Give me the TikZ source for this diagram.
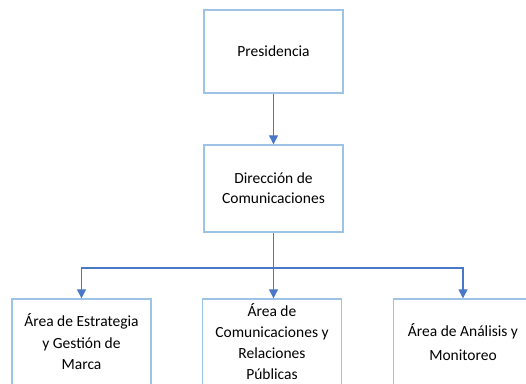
\documentclass[tikz,border=0pt]{standalone}
\usepackage{fontspec}
\setmainfont{Carlito}
\usetikzlibrary{arrows.meta, positioning}
\definecolor{borde}{HTML}{9DC3E6}
\definecolor{flecha}{HTML}{4A78C8}

\begin{document}
\begin{tikzpicture}[
    x=1pt, y=-1pt,
    caja/.style={draw=borde, line width=1.4pt, rectangle, minimum width=139pt,
                 align=center, font=\fontsize{15.5}{20}\selectfont},
    rel/.style={-{Triangle[width=9pt, length=9pt]}, draw=flecha, line width=1.2pt},
]
\useasboundingbox (0,0) rectangle (526,383);
%% Niveles: Presidencia arriba, Direccion al centro, tres areas abajo
\node[caja, minimum height=83pt]  at (273.5, 51.5)  (pres) {Presidencia};
\node[caja, minimum height=87pt]  at (273.5, 188.5) (dir)  {Direcci\'on de\\Comunicaciones};
\node[caja, minimum height=86pt, font=\fontsize{15.5}{21.5}\selectfont]
      at (81.5, 342)  (estr) {\'Area de Estrategia\\y Gesti\'on de\\Marca};
\node[caja, minimum height=86pt, font=\fontsize{15.5}{21}\selectfont]
      at (272, 342)   (rrpp) {\'Area de\\Comunicaciones y\\Relaciones\\P\'ublicas};
\node[caja, minimum height=86pt, font=\fontsize{15.5}{24}\selectfont]
      at (463, 342)   (anal) {\'Area de An\'alisis y\\Monitoreo};
\coordinate (bus) at (273.5, 268);

%% Conexiones
\draw[rel] (pres) -- (dir);
\draw[draw=flecha, line width=1.2pt] (dir.south) -- (bus);
\draw[rel] (bus) -| (estr.north);
\draw[rel] (bus) -| (anal.north);
\draw[rel] (bus) -- (bus |- rrpp.north);
\end{tikzpicture}
\end{document}
